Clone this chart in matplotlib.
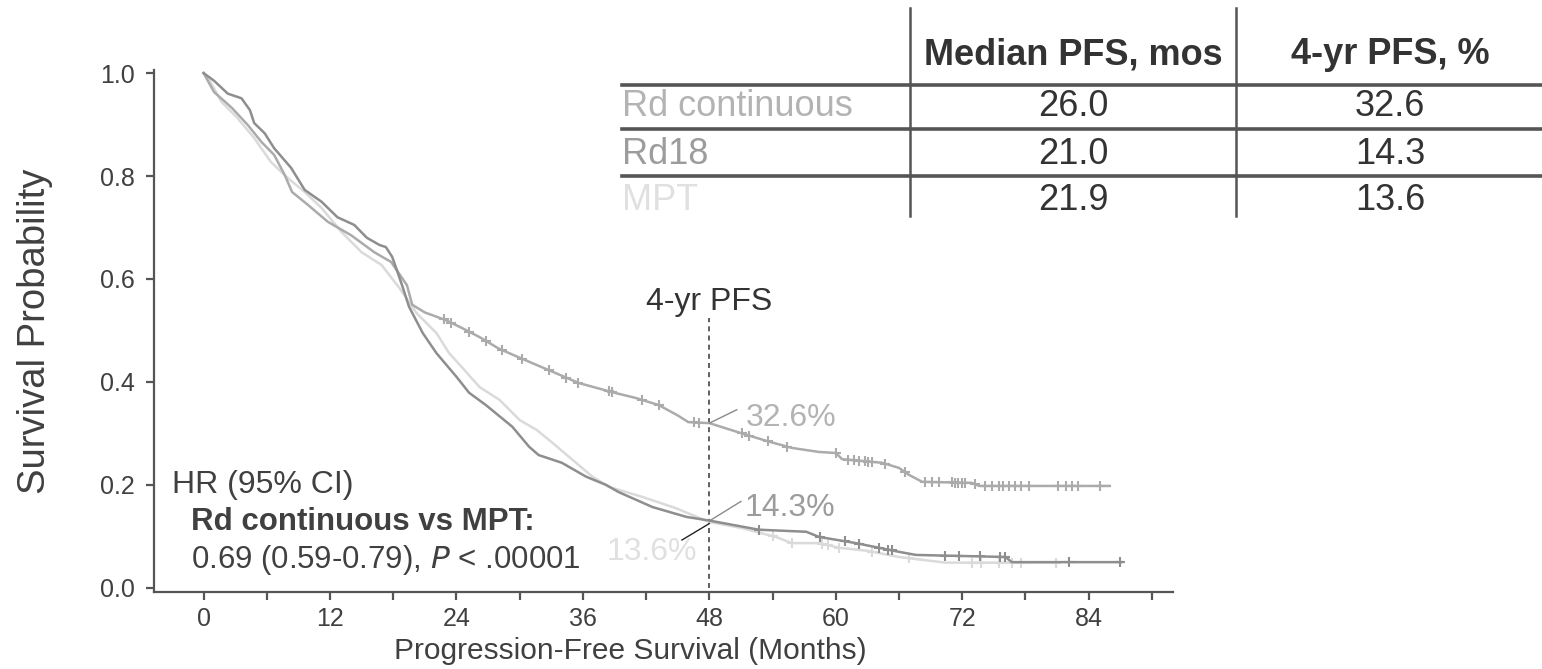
import numpy as np
import matplotlib
matplotlib.use('Agg')
import matplotlib.pyplot as plt
from matplotlib.ticker import MultipleLocator

plt.rcParams['font.family'] = 'Liberation Sans'

# Kaplan-Meier curves (months, survival probability)
rdc_t = [0, 1, 2, 2.7, 4.2, 5.5, 6.7, 7.7, 8.4, 9.9, 11.8, 14, 16.2, 17.8, 19.3, 19.8, 21, 23,
         24.5, 26.2, 28, 30, 33.1, 35.6, 38.8, 41, 43.2, 45, 46, 48, 51.1, 53.5, 55.8, 58.4,
         60, 60.6, 64.4, 66, 66.9, 68.2, 72.9, 73.6, 86]
rdc_s = [1.0, 0.963, 0.945, 0.932, 0.899, 0.866, 0.841, 0.802, 0.769, 0.744, 0.711, 0.685,
         0.652, 0.633, 0.588, 0.55, 0.535, 0.52, 0.505, 0.487, 0.465, 0.447, 0.42, 0.398, 0.38,
         0.369, 0.355, 0.335, 0.322, 0.32, 0.30, 0.285, 0.272, 0.264, 0.262, 0.25, 0.243, 0.233,
         0.22, 0.206, 0.204, 0.198, 0.198]

rd18_t = [0, 1, 2.3, 3.6, 4.4, 4.8, 5.8, 6.7, 8.3, 9.6, 11.2, 12.7, 14.3, 15.5, 16.7, 17.3,
          17.9, 18.4, 18.9, 19.5, 20.8, 22.1, 24, 25.2, 26.8, 29.3, 30.9, 31.8, 34, 36.3, 38.2,
          39.4, 42.6, 45.8, 48.2, 52.7, 57.2, 58.4, 61.9, 66, 67.6, 76.1, 76.7, 87.1]
rd18_s = [1.0, 0.985, 0.96, 0.951, 0.928, 0.903, 0.883, 0.854, 0.816, 0.773, 0.75, 0.72, 0.705,
          0.68, 0.666, 0.662, 0.643, 0.614, 0.584, 0.546, 0.495, 0.456, 0.41, 0.379, 0.355,
          0.313, 0.274, 0.258, 0.243, 0.216, 0.2, 0.186, 0.157, 0.138, 0.13, 0.113, 0.109,
          0.099, 0.087, 0.07, 0.064, 0.06, 0.05, 0.05]

mpt_t = [0, 0.4, 1.7, 3.2, 4.8, 6.4, 8, 9.6, 11.2, 13.1, 15, 16.9, 18.6, 20.2, 22.1, 23.3, 24.5,
         26.2, 28.1, 30, 31.6, 33.1, 35, 36.9, 38.5, 41.6, 44.8, 48, 51.1, 54.3, 55.8, 58.4,
         60.3, 63, 66, 70.4, 80.9]
mpt_s = [1.0, 0.992, 0.944, 0.913, 0.874, 0.827, 0.796, 0.769, 0.738, 0.691, 0.652, 0.627,
         0.582, 0.534, 0.495, 0.456, 0.429, 0.39, 0.365, 0.326, 0.307, 0.282, 0.249, 0.216,
         0.196, 0.177, 0.155, 0.128, 0.116, 0.099, 0.087, 0.087, 0.078, 0.072, 0.06, 0.049,
         0.049]

# censoring times
rdc_cens = [22.8, 23.5, 25.2, 26.8, 28.3, 30.2, 32.8, 34.4, 35.5, 38.5, 38.8, 41.6, 43.2, 46.5,
            47, 51.1, 51.8, 53.6, 55.4, 60.0, 61.2, 61.7, 62.2, 62.8, 63.1, 63.4, 64.7, 66.6,
            68.5, 69.1, 69.8, 71, 71.3, 71.6, 72, 72.3, 73.2, 74.2, 74.8, 75.5, 75.9, 76.4, 77,
            77.6, 78.3, 81.1, 81.8, 82.4, 83, 85.1]
rd18_cens = [52.7, 58.5, 60.9, 62.2, 64.1, 65, 65.3, 70.4, 71.7, 73.7, 75.6, 76.1, 82.1, 87]
mpt_cens = [54, 55.8, 58.7, 59.3, 60.3, 63.4, 66.9, 72.9, 73.8, 75.5, 76.7, 77.6, 80.9]

arms = ['Rd continuous', 'Rd18', 'MPT']
median_pfs = ['26.0', '21.0', '21.9']
pfs_4yr = ['32.6', '14.3', '13.6']
colors = ['#ababab', '#8e8e8e', '#dadada']
label_colors = ['#b3b3b3', '#9c9c9c', '#e0e0e0']

dark = '#404040'

fig = plt.figure(figsize=(15.42, 6.69), dpi=100)
ax = fig.add_axes([0.0999, 0.1151, 0.6608, 0.7803])

curves = [(rdc_t, rdc_s, rdc_cens), (rd18_t, rd18_s, rd18_cens), (mpt_t, mpt_s, mpt_cens)]
for i in [2, 0, 1]:
    t, s, cens = curves[i]
    ax.plot(t, s, color=colors[i], lw=1.8, zorder=3)
    ax.plot(cens, np.interp(cens, t, s), ls='', marker='+', ms=7, mew=1.5,
            color=colors[i], zorder=3)

ax.set_xlim(-4.7, 92)
ax.set_ylim(-0.008, 1.006)
ax.xaxis.set_major_locator(MultipleLocator(12))
ax.xaxis.set_minor_locator(MultipleLocator(6))
ax.set_yticks([0, 0.2, 0.4, 0.6, 0.8, 1.0])
ax.set_yticklabels(['0.0', '0.2', '0.4', '0.6', '0.8', '1.0'])
ax.set_xticks(range(0, 85, 12))
for sp in ['top', 'right']:
    ax.spines[sp].set_visible(False)
for sp in ['left', 'bottom']:
    ax.spines[sp].set_color('#555555')
    ax.spines[sp].set_linewidth(1.6)
ax.tick_params(which='both', length=6, width=1.6, color='#555555', labelsize=18,
               labelcolor=dark, pad=8)
ax.tick_params(axis='x', pad=5)
ax.set_xlabel('Progression-Free Survival (Months)', fontsize=21.5, color=dark, labelpad=4)
ax.xaxis.label.set_x(0.467)
ax.set_ylabel('Survival Probability', fontsize=27.5, color=dark, labelpad=34)

# 4-yr marker
ax.plot([48, 48], [0, 0.525], ls=(0, (3, 2.5)), color='#444444', lw=1.2, zorder=2)
ax.text(48, 0.555, '4-yr PFS', fontsize=23, color='#333333', ha='center', va='center')

ax.plot([48, 50.6], [0.32, 0.346], color='#8a8a8a', lw=1.0, zorder=4)
ax.text(51.5, 0.33, '32.6%', fontsize=23, color=label_colors[0], va='center', ha='left')
ax.plot([48, 51.0], [0.13, 0.168], color='#8a8a8a', lw=1.0, zorder=4)
ax.text(51.3, 0.156, '14.3%', fontsize=23, color=label_colors[1], va='center', ha='left')
ax.plot([48, 45.4], [0.125, 0.093], color='#222222', lw=1.0, zorder=4)
ax.text(46.8, 0.07, '13.6%', fontsize=23, color=label_colors[2], va='center', ha='right')

# hazard ratio block
ax.text(-3.0, 0.2, 'HR (95% CI)', fontsize=23, color=dark, va='center')
ax.text(-1.2, 0.128, 'Rd continuous vs MPT:', fontsize=22.5, color=dark, va='center',
        fontweight='bold')
ax.text(-1.2, 0.055, '0.69 (0.59-0.79), $\\it{P}$ < .00001', fontsize=22.5, color=dark,
        va='center')

# table overlay in pixel coordinates
tab = fig.add_axes([0, 0, 1, 1], zorder=5)
tab.set_xlim(0, 1542)
tab.set_ylim(669, 0)
tab.axis('off')
tab.patch.set_alpha(0)
lc = '#555555'
for x in [910, 1236]:
    tab.plot([x, x], [8, 216], color=lc, lw=1.8)
for y in [85, 129, 176]:
    tab.plot([622, 1542], [y, y], color=lc, lw=2.6)
tab.text(1073, 55, 'Median PFS, mos', fontsize=26, fontweight='bold', color='#333333',
         ha='center', va='center')
tab.text(1390, 55, '4-yr PFS, %', fontsize=26, fontweight='bold', color='#333333',
         ha='center', va='center')
for i, arm in enumerate(arms):
    y = 107 + 47 * i
    tab.text(622, y, arm, fontsize=26, color=label_colors[i], ha='left', va='center')
    tab.text(1073, y, median_pfs[i], fontsize=26, color='#333333', ha='center', va='center')
    tab.text(1390, y, pfs_4yr[i], fontsize=26, color='#333333', ha='center', va='center')

fig.savefig('out.png', dpi=100)
